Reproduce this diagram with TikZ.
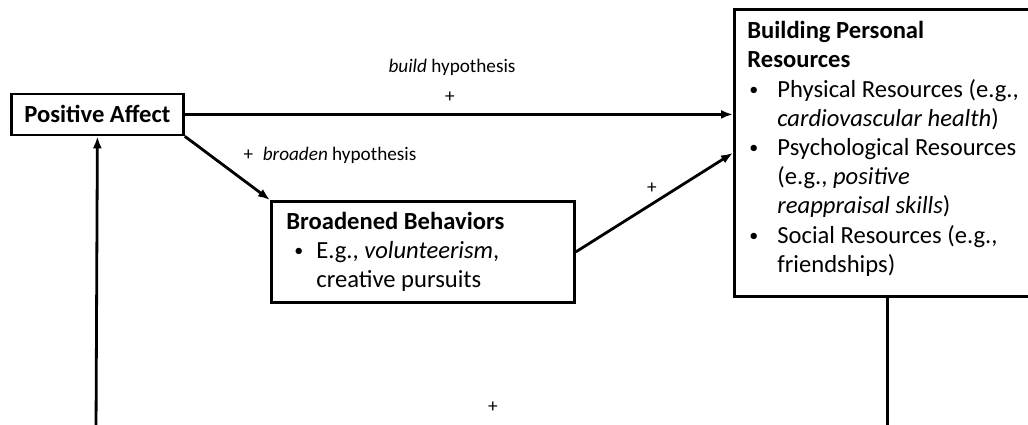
\documentclass[tikz,border=0pt]{standalone}
\usepackage{fontspec}
\setmainfont{Carlito}
\usetikzlibrary{arrows.meta,positioning,calc}
\newcommand{\bul}[2][0pt]{\par\hangindent=15pt\hangafter=1\noindent\makebox[15pt][l]{\hspace{#1}\raisebox{1pt}{\fontsize{9}{9}\selectfont\textbullet}}#2}
\newcommand{\boxtext}[2]{\begin{minipage}{#1}\raggedright #2\end{minipage}}

\begin{document}
\begin{tikzpicture}[
    x=0.5pt, y=-0.5pt,
    box/.style={draw, line width=1.4pt, anchor=north west, inner ysep=0pt, font=\fontsize{12.3}{14.6}\selectfont},
    arrow/.style={-{Latex[length=6pt,width=4.5pt]}, line width=1.4pt},
    plain/.style={line width=1.4pt},
    lbl/.style={font=\fontsize{9.6}{11}\selectfont},
]
\useasboundingbox (0,0) rectangle (1028,424);

\node[box, inner xsep=0pt, minimum width=86pt, minimum height=20.5pt] (PA) at (10,92.5) {\textbf{Positive Affect}};
\node[box, inner xsep=7.5pt, minimum width=151.5pt, minimum height=50.5pt] (BB) at (270,200)
    {\boxtext{136.5pt}{\textbf{Broadened Behaviors}\bul[4pt]{E.g., \textit{volunteerism},\newline creative pursuits}}};
\node[box, inner xsep=6.5pt, minimum width=153pt, minimum height=143.5pt] (BPR) at (733,8)
    {\boxtext{140pt}{\vspace*{-4pt}\textbf{Building Personal\\Resources}\bul[1pt]{Physical Resources (e.g.,\newline \textit{cardiovascular health})}\bul[1pt]{Psychological Resources\newline (e.g., \textit{positive}\newline \textit{reappraisal skills})}\bul[1pt]{Social Resources (e.g.,\newline friendships)}}};

\coordinate (PAfoot) at (96,432);
\coordinate (BPRfoot) at (886,432);

\draw[arrow] (PA) -- (PA -| BPR.west);
\draw[arrow] (PA.south east) -- (BB.north west);
\draw[arrow] (BB.east) -- (BPR.west);
\draw[arrow] (PAfoot) -- (PA.south);
\draw[plain] (BPR.south) -- (BPR.south |- BPRfoot);

\node[lbl] (buildlbl) at (452,67) {\textit{build} hypothesis};
\node[lbl] (buildplus) at (450,97) {+};
\node[lbl] (broadenlbl) at (330,155) {+\enspace\textit{broaden} hypothesis};
\node[lbl] (bbplus) at (652,188) {+};
\node[lbl] (loopplus) at (493,407) {+};
\end{tikzpicture}
\end{document}
